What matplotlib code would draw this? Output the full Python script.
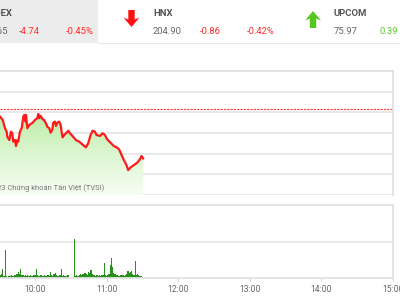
import matplotlib
matplotlib.use("Agg")
import matplotlib.pyplot as plt
import numpy as np
from matplotlib.patches import Polygon, Rectangle
from matplotlib.lines import Line2D
from matplotlib.colors import LinearSegmentedColormap

plt.rcParams['font.family'] = ['Roboto', 'DejaVu Sans']

# ---- data ----
price_min = [30.7, 33.0, 34.9, 36.3, 36.8, 38.5, 39.9, 41.0, 41.8, 43.3, 44.1, 45.2, 46.0,
             47.4, 48.9, 50.2, 51.0, 52.2, 52.5, 53.6, 55.2, 58.1, 60.0, 61.9, 62.8, 63.6,
             64.8, 66.4, 67.5, 69.2, 70.3, 72.0, 73.1, 74.5, 75.3, 76.7, 77.6, 78.7, 80.3,
             81.5, 82.3, 83.2, 84.5, 86.5, 87.9, 89.9, 92.0, 94.3, 97.1, 100.4, 102.7, 104.6,
             106.6, 108.3, 110.2, 111.6, 114.4, 116.7, 118.6, 120.5, 123.3, 126.1, 128.4,
             130.5, 132.6, 134.5, 136.7, 138.1, 140.1, 142.8, 145.6, 147.9, 149.3, 150.6]
price_val = [1051.58, 1051.26, 1050.46, 1050.13, 1049.64, 1049.32, 1050.13, 1049.97, 1049.16,
             1049.32, 1048.74, 1049.32, 1049.16, 1050.13, 1050.46, 1051.58, 1051.75, 1051.10,
             1051.75, 1050.46, 1050.78, 1051.00, 1051.26, 1051.43, 1051.84, 1051.43, 1051.65,
             1051.33, 1051.26, 1050.94, 1050.61, 1050.46, 1050.03, 1050.29, 1051.00, 1051.10,
             1050.68, 1051.00, 1051.10, 1050.78, 1050.13, 1049.58, 1049.81, 1050.03, 1050.22,
             1049.90, 1049.64, 1049.32, 1049.16, 1048.83, 1048.61, 1049.00, 1049.81, 1050.22,
             1050.13, 1049.81, 1049.71, 1049.97, 1049.81, 1049.39, 1049.06, 1048.74, 1048.61,
             1048.42, 1047.86, 1047.38, 1046.89, 1046.41, 1046.67, 1046.89, 1047.12, 1047.45,
             1047.77, 1047.54]
ref_price = 1052.28

vol_start = 31  # minutes after 9:00 of first bar (9:31)
volume = [0.08, 0.10, 0.24, 0.06, 0.77, 0.05, 0.04, 0.06, 0.05, 0.07,
          0.05, 0.06, 0.08, 0.07, 0.12, 0.17, 0.10, 0.26, 0.09, 0.07,
          0.06, 0.08, 0.05, 0.07, 0.06, 0.09, 0.05, 0.06, 0.08, 0.07,
          0.25, 0.08, 0.06, 0.05, 0.07, 0.06, 0.05, 0.08, 0.06, 0.05,
          0.07, 0.06, 0.17, 0.08, 0.06, 0.10, 0.15, 0.07, 0.05, 0.06,
          0.08, 0.25, 0.06, 0.07, 0.05, 0.06, 0.08, 0.07, 0.00, 0.00,
          0.00, 0.00, 1.07, 0.06, 0.07, 0.05, 0.08, 0.10, 0.09, 0.12,
          0.10, 0.14, 0.12, 0.09, 0.16, 0.13, 0.22, 0.10, 0.08, 0.07,
          0.06, 0.08, 0.05, 0.07, 0.06, 0.09, 0.07, 0.40, 0.08, 0.06,
          0.07, 0.12, 0.36, 0.54, 0.31, 0.15, 0.10, 0.08, 0.07, 0.06,
          0.06, 0.08, 0.07, 0.09, 0.06, 0.08, 0.10, 0.19, 0.14, 0.17,
          0.19, 0.10, 0.08, 0.47, 0.07, 0.12, 0.08, 0.06, 0.05, 0.04]

tick_min = [60, 120, 180, 240, 300, 360]
tick_labels = ["10:00", "11:00", "12:00", "13:00", "14:00", "15:00"]

index_names = ["VNINDEX", "HNX", "UPCOM"]
index_values = ["1047.65", "204.90", "75.97"]
index_changes = ["-4.74", "-0.86", "0.39"]
index_pcts = ["-0.45%", "-0.42%", "0.52%"]

# ---- figure ----
W, H = 400, 300
fig = plt.figure(figsize=(4, 3), dpi=100)
fig.patch.set_facecolor('white')

def fx(x):
    return x / W

def fy(y):
    return 1 - y / H

def rect(x0, y0, x1, y1):
    return [fx(x0), fy(y1), fx(x1) - fx(x0), fy(y0) - fy(y1)]

RED = '#ff2a2a'
GREEN = '#5cc82a'
GREY = '#666666'

# header background
fig.patches.append(Rectangle((0, fy(43)), fx(98), 43 / H, transform=fig.transFigure,
                             facecolor='#ececec', edgecolor='none', zorder=0))
fig.lines.append(Line2D([fx(98), 1], [fy(43), fy(43)], transform=fig.transFigure,
                        color='#e6e6e6', lw=0.8))

# arrows
def arrow(cx, ytop, ybot, up, color):
    hw, sw = 8.0, 3.2
    hl = 9.5
    if up:
        pts = [(cx, ytop), (cx + hw, ytop + hl), (cx + sw, ytop + hl - 2.0), (cx + sw, ybot),
               (cx - sw, ybot), (cx - sw, ytop + hl - 2.0), (cx - hw, ytop + hl)]
    else:
        pts = [(cx, ybot), (cx + hw, ybot - hl), (cx + sw, ybot - hl + 2.0), (cx + sw, ytop),
               (cx - sw, ytop), (cx - sw, ybot - hl + 2.0), (cx - hw, ybot - hl)]
    pts = [(fx(a), fy(b)) for a, b in pts]
    fig.patches.append(Polygon(pts, closed=True, transform=fig.transFigure,
                               facecolor=color, edgecolor='none'))

arrow(131.5, 10, 27, False, '#ff1010')
arrow(313, 11, 28, True, '#55c81e')

# header texts
fs = 6.8
fig.text(fx(12.5), fy(13), index_names[0], ha='right', va='center', fontsize=fs,
         fontweight='bold', color='#555555')
fig.text(fx(7.5), fy(32), index_values[0], ha='right', va='center', fontsize=fs, color=GREY)
fig.text(fx(19), fy(32), index_changes[0], ha='left', va='center', fontsize=fs, color=RED)
fig.text(fx(66), fy(32), index_pcts[0], ha='left', va='center', fontsize=fs, color=RED)

fig.text(fx(153), fy(13), index_names[1], ha='left', va='center', fontsize=fs,
         fontweight='bold', color='#555555')
fig.text(fx(153), fy(32), index_values[1], ha='left', va='center', fontsize=fs, color=GREY)
fig.text(fx(200), fy(32), index_changes[1], ha='left', va='center', fontsize=fs, color=RED)
fig.text(fx(247), fy(32), index_pcts[1], ha='left', va='center', fontsize=fs, color=RED)

fig.text(fx(334), fy(13), index_names[2], ha='left', va='center', fontsize=fs,
         fontweight='bold', color='#555555')
fig.text(fx(334), fy(32), index_values[2], ha='left', va='center', fontsize=fs, color=GREY)
fig.text(fx(380), fy(32), index_changes[2], ha='left', va='center', fontsize=fs, color=GREEN)
fig.text(fx(427), fy(32), index_pcts[2], ha='left', va='center', fontsize=fs, color=GREEN)

XMIN, XMAX = 30.7, 360
GRID = '#e6e6e6'

# ---- price axes ----
ax = fig.add_axes(rect(0, 71, 393, 195))
ax.set_xlim(XMIN, XMAX)
ax.set_ylim(1044, 1056)
ax.set_yticks(np.arange(1044, 1057, 2))
ax.set_xticks([])
ax.tick_params(left=False, labelleft=False)
ax.grid(axis='y', color=GRID, lw=1.3)
ax.set_axisbelow(True)
for s in ['left', 'bottom']:
    ax.spines[s].set_visible(False)
for s in ['top', 'right']:
    ax.spines[s].set_color('#e2e2e2')
    ax.spines[s].set_linewidth(1.3)

# gradient fill under line
grad = np.linspace(1, 0, 256).reshape(-1, 1)
cmap = LinearSegmentedColormap.from_list('g', ['#f6fdf3', '#dcf6d0', '#b9eba1'])
im = ax.imshow(grad, extent=(XMIN, XMAX, 1044, 1052.2), aspect='auto', cmap=cmap,
               vmin=0, vmax=1, zorder=1, origin='upper')
poly_x = [price_min[0]] + price_min + [price_min[-1]]
poly_y = [1044] + price_val + [1044]
clip = Polygon(list(zip(poly_x, poly_y)), closed=True, transform=ax.transData,
               facecolor='none', edgecolor='none')
ax.add_patch(clip)
im.set_clip_path(clip)

ax.axhline(ref_price, color='#ff3b3b', lw=0.8, ls=(0, (2, 1)), zorder=2)
ax.plot(price_min, price_val, color='#ff1a1a', lw=1.6, zorder=3, solid_joinstyle='round')

fig.text(fx(104), fy(188), "© 2023 Chứng khoán Tân Việt (TVSI)", ha='right', va='center',
         fontsize=5.4, color='#777777')

# ---- volume axes ----
av = fig.add_axes(rect(0, 205, 393, 278))
av.set_xlim(XMIN, XMAX)
av.set_ylim(0, 2)
av.set_yticks([1])
av.tick_params(left=False, labelleft=False)
av.grid(axis='y', color=GRID, lw=1.3)
av.set_axisbelow(True)
vx = np.arange(vol_start, vol_start + len(volume))
av.bar(vx, volume, width=1.0, color='#26901a', edgecolor='none', zorder=2)
av.set_xticks(tick_min)
av.set_xticklabels(tick_labels, fontsize=6.2, color=GREY)
av.tick_params(axis='x', length=2, color='#d8d8d8', pad=3)
av.spines['left'].set_visible(False)
for s in ['top', 'right', 'bottom']:
    av.spines[s].set_color('#e2e2e2')
    av.spines[s].set_linewidth(1.3)

fig.savefig('out.png', dpi=100)
